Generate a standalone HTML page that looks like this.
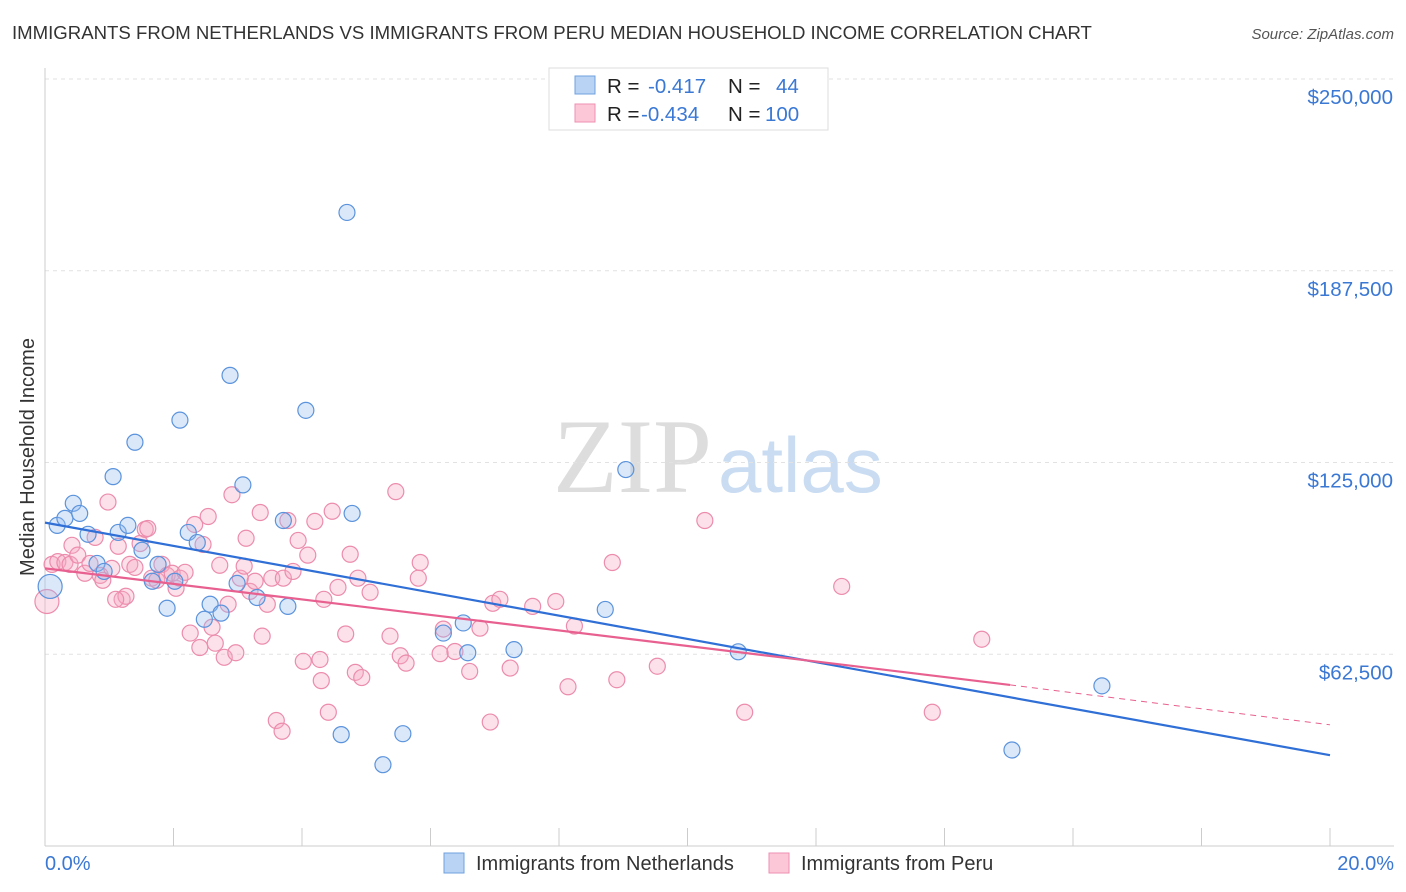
<!DOCTYPE html>
<html><head><meta charset="utf-8"><style>
body{margin:0;background:#fff;font-family:"Liberation Sans",sans-serif;}
svg{display:block}
</style></head><body>
<svg id="c" width="1406" height="892">
<text x="12" y="39" font-size="18.6" fill="#333">IMMIGRANTS FROM NETHERLANDS VS IMMIGRANTS FROM PERU MEDIAN HOUSEHOLD INCOME CORRELATION CHART</text>
<text x="1394" y="39" font-size="15" fill="#555" font-style="italic" text-anchor="end">Source: ZipAtlas.com</text>
<text x="34" y="457" font-size="20" fill="#333" text-anchor="middle" transform="rotate(-90 34 457)">Median Household Income</text>
<text x="553" y="492" font-size="106" fill="#ddd" font-family="Liberation Serif,serif">ZIP</text>
<text x="718" y="492" font-size="78" fill="#c9dcf2">atlas</text>
<g id="grid"></g><g id="pts"></g><g id="lines"></g>
<g>
<rect x="549" y="68" width="279" height="62" fill="#fff" stroke="#ddd"/>
<rect x="575" y="76" width="20" height="18" fill="#b8d3f3" stroke="#6fa0e0"/>
<rect x="575" y="104" width="20" height="18" fill="#fcc8d8" stroke="#ee8fb0"/>
<text x="607" y="93" font-size="20.5" fill="#222">R = <tspan fill="#3a78d4" x="648">-0.417</tspan><tspan x="728">N =</tspan><tspan x="776" fill="#3a78d4">44</tspan></text>
<text x="607" y="121" font-size="20.5" fill="#222">R = <tspan fill="#3a78d4" x="641">-0.434</tspan><tspan x="728">N =</tspan><tspan x="765" fill="#3a78d4">100</tspan></text>
</g>
<g>
<rect x="444" y="853" width="20" height="20" fill="#b8d3f3" stroke="#6fa0e0"/>
<text x="476" y="870" font-size="20" fill="#333">Immigrants from Netherlands</text>
<rect x="769" y="853" width="20" height="20" fill="#fcc8d8" stroke="#ee8fb0"/>
<text x="801" y="870" font-size="20" fill="#333">Immigrants from Peru</text>
</g>
<text x="45" y="870" font-size="20" fill="#3a78d4">0.0%</text>
<text x="1394" y="870" font-size="20" fill="#3a78d4" text-anchor="end">20.0%</text>
</svg>
<script>
const yTicks=[62500,125000,187500,250000];
const yTickLabels=["$62,500","$125,000","$187,500","$250,000"];
const blueX=[0.19,0.31,0.44,0.54,0.67,0.81,0.92,1.06,1.14,1.29,1.40,1.51,1.67,1.76,1.90,2.02,2.10,2.23,2.37,2.48,2.57,2.74,2.88,2.99,3.08,3.30,3.71,3.78,4.06,4.70,4.61,4.78,5.26,5.57,6.20,6.51,6.58,7.30,8.72,9.04,10.79,15.05,16.45,0.08];
const blueY=[104500,106800,111700,108400,101600,92100,89500,120400,102200,104500,131600,96400,86300,91800,77500,86300,138800,102200,98900,73900,78800,75900,153400,85600,117700,81000,106100,78100,142000,206500,36300,108400,26500,36600,69400,72700,63000,64000,77100,122700,63300,31300,52200,84600];
const pinkX=[0.03,0.11,0.20,0.31,0.39,0.42,0.51,0.62,0.70,0.78,0.86,0.90,0.98,1.04,1.14,1.20,1.26,1.32,1.40,1.48,1.56,1.60,1.66,1.74,1.82,1.90,1.98,2.04,2.10,2.18,2.26,2.33,2.41,2.46,2.54,2.60,2.65,2.72,2.79,2.85,2.91,2.97,3.04,3.10,3.13,3.19,3.27,3.35,3.38,3.46,3.53,3.60,3.69,3.71,3.78,3.86,3.94,4.02,4.09,4.20,4.30,4.34,4.41,4.47,4.56,4.68,4.75,4.83,4.87,4.93,5.06,5.37,5.46,5.53,5.62,5.81,5.84,6.15,6.20,6.38,6.61,6.77,6.93,6.97,7.08,7.24,7.59,7.95,8.14,8.24,8.83,8.90,9.53,10.27,10.89,12.40,13.81,14.58,4.28,1.10];
const pinkY=[79700,91800,92700,92400,91800,98000,94800,88900,92100,100600,88200,86600,112100,90500,97700,80400,81400,91800,90800,98600,103200,103500,87300,86600,91800,88200,88900,84000,87300,89200,69400,104800,64700,98300,107400,71300,66100,91500,61500,78800,114500,63000,87300,91200,100300,83000,86300,108700,68400,78800,87300,40900,37400,87300,106100,89500,99600,60200,94800,105800,53900,80400,43600,109100,84300,69100,95100,56600,87300,54900,82700,68400,115500,62000,59600,87300,92400,62700,70700,63400,56900,71000,40400,79100,80400,58000,78100,79700,51900,71700,92400,54200,58600,106100,43600,84600,43600,67400,60800,80400];
const ns="http://www.w3.org/2000/svg";
const x0=45,x1=1330,yPx=v=>846-v/250000*767,xPx=p=>x0+p/20*(x1-x0);
function mk(t,a,p){const e=document.createElementNS(ns,t);for(const k in a)e.setAttribute(k,a[k]);p.appendChild(e);return e;}
const grid=document.getElementById('grid');
yTicks.forEach((v,i)=>{
 const l=mk('line',{x1:x0,x2:1394,y1:yPx(v),y2:yPx(v),stroke:'#e2e2e2','stroke-dasharray':'4,4'},grid);
 
 
 const t=mk('text',{x:1393,y:yPx(v)+25,'font-size':20.5,fill:'#3a78d4','text-anchor':'end'},grid);
 t.textContent=yTickLabels[i];
 
 
});
mk('line',{x1:x0,x2:x0,y1:68,y2:846,stroke:'#ccc'},grid);
mk('line',{x1:x0,x2:1394,y1:846,y2:846,stroke:'#ccc'},grid);
for(let i=0;i<=10;i++){const t=mk('line',{x1:xPx(i*2),x2:xPx(i*2),y1:828,y2:846,stroke:'#ccc'},grid);
 
 }
const pts=document.getElementById('pts');
pinkX.forEach((x,i)=>{const r=(i==0)?12:8;const c=mk('circle',{cx:xPx(x),cy:yPx(pinkY[i]),r:r,fill:'rgba(245,170,196,0.35)',stroke:'#ec8cad','stroke-width':1.2},pts);
 
 });
blueX.forEach((x,i)=>{const r=(i==43)?12:8;const c=mk('circle',{cx:xPx(x),cy:yPx(blueY[i]),r:r,fill:'rgba(150,190,240,0.35)',stroke:'#5b93dc','stroke-width':1.2},pts);
 
 });
const L=document.getElementById('lines');
const b=mk('line',{x1:xPx(0),y1:yPx(105400),x2:xPx(20),y2:yPx(29600),stroke:'#2f6fd6','stroke-width':2.2},L);


const p=mk('line',{x1:xPx(0),y1:yPx(90500),x2:xPx(15.02),y2:yPx(52500),stroke:'#e8608f','stroke-width':2.2},L);


const pd=mk('line',{x1:xPx(15.02),y1:yPx(52500),x2:xPx(20),y2:yPx(39500),stroke:'#e8608f','stroke-width':1,'stroke-dasharray':'6,5'},L);


</script>
</body></html>
